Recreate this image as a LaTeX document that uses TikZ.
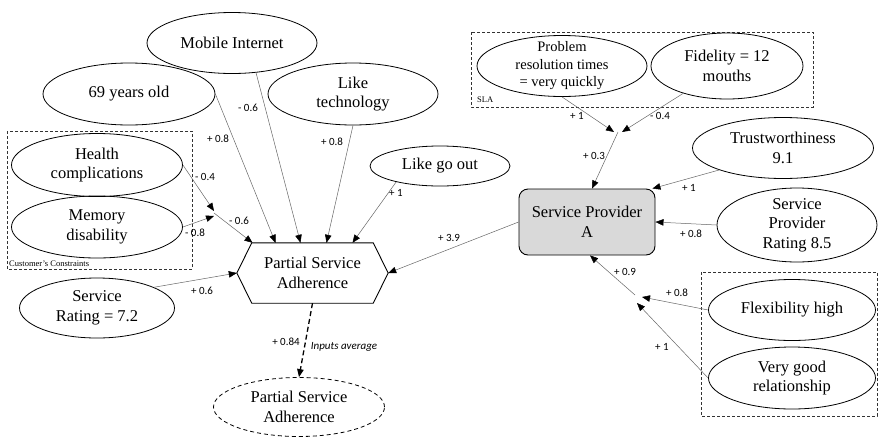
\documentclass[tikz,border=0pt]{standalone}
\usepackage{fontspec}
\setmainfont{Liberation Serif}
\newfontfamily\lblfont{Carlito}
\usetikzlibrary{shapes.geometric, arrows.meta}
\tikzstyle{oval} = [ellipse, draw=black, line width=0.8pt, inner xsep=0pt, inner ysep=-6pt, align=center, font=\fontsize{16.5}{19.5}\selectfont]
\tikzstyle{provider} = [rectangle, rounded corners=9pt, minimum width=136pt, minimum height=66pt, align=center, draw=black, line width=0.9pt, fill=black!15, font=\fontsize{16.5}{19.5}\selectfont]
\tikzstyle{adherence} = [rectangle, minimum width=151pt, minimum height=60pt, align=center, font=\fontsize{16.5}{19.5}\selectfont]
\tikzstyle{arrow} = [line width=0.5pt, draw=black!60, -{Triangle[length=8pt,width=6.5pt,black]}]
\tikzstyle{weight} = [font=\lblfont\fontsize{11}{12}\selectfont, text=black, inner sep=0pt]
\tikzstyle{group} = [draw=black!80, line width=0.7pt, dash pattern=on 3pt off 2pt]
\tikzstyle{grouplabel} = [font=\fontsize{8.5}{10}\selectfont, anchor=west, inner sep=0pt]

\begin{document}
\begin{tikzpicture}[x=1pt, y=-1pt]
\useasboundingbox (0,0) rectangle (879,437);

% groups
\draw[group] (7,131) rectangle (192,269);
\node(cons_lbl) [grouplabel] at (9,264) {Customer's Constraints};
\draw[group] (471,32) rectangle (813,107);
\node(sla_lbl) [grouplabel] at (477,100) {SLA};
\draw[group] (701,272) rectangle (877,416);

% customer side
\node(mob) [oval, minimum width=170pt, minimum height=61pt] at (232,43) {Mobile Internet};
\node(age) [oval, minimum width=172pt, minimum height=62pt] at (129,94) {69 years old};
\node(tech) [oval, minimum width=170pt, minimum height=62pt] at (353,94) {Like\\technology};
\node(goout) [oval, minimum width=140pt, minimum height=40pt] at (440,166) {Like go out};
\node(health) [oval, minimum width=171pt, minimum height=63pt] at (97,165) {Health\\complications};
\node(memory) [oval, minimum width=171pt, minimum height=62pt] at (97,227) {Memory\\disability};
\node(rating) [oval, minimum width=155pt, minimum height=60pt] at (97,308) {Service\\Rating = 7.2};
\node(psa) [adherence] at (312.5,273) {Partial Service\\Adherence};
\draw[line width=0.9pt] (psa.west) -- ([xshift=15pt]psa.north west) -- ([xshift=-15pt]psa.north east) -- (psa.east) -- ([xshift=-15pt]psa.south east) -- ([xshift=15pt]psa.south west) -- cycle;
\node(avg) [oval, dash pattern=on 4pt off 3pt, minimum width=171pt, minimum height=59pt] at (299,407) {Partial Service\\Adherence};

% provider side
\node(prob) [oval, minimum width=170pt, minimum height=61pt, font=\fontsize{14.5}{17.5}\selectfont] at (562,66) {Problem\\resolution times\\= very quickly};
\node(fid) [oval, minimum width=152pt, minimum height=66pt] at (727,66) {Fidelity = 12\\mouths};
\node(trust) [oval, minimum width=181pt, minimum height=61pt] at (783,148) {Trustworthiness\\9.1};
\node(spa) [provider] at (587,222) {Service Provider\\A};
\node(sprate) [oval, minimum width=160pt, minimum height=74pt] at (797,225) {Service\\Provider\\Rating 8.5};
\node(flex) [oval, minimum width=167pt, minimum height=61pt] at (792,310) {Flexibility high};
\node(rel) [oval, minimum width=167pt, minimum height=62pt] at (792,378) {Very good\\relationship};

% merge points
\coordinate(cc) at (214,213);
\coordinate(sm) at (618,132);
\coordinate(fm) at (640,300);

% connectors
\draw[arrow] (age.east) -- ([xshift=-37pt]psa.north);
\draw[arrow] (mob.-51) -- ([xshift=-12pt]psa.north);
\draw[arrow] (tech.south) -- ([xshift=14pt]psa.north);
\draw[arrow] (goout.-160) -- ([xshift=40pt]psa.north);
\draw[arrow] (health.east) -- ([yshift=2pt]cc);
\draw[arrow] (memory.east) -- ([yshift=-3pt]cc);
\draw[arrow] (cc) -- ([xshift=-60pt]psa.north);
\draw[arrow] (rating.20) -- (psa.west);
\draw[arrow] (spa.west) -- (psa.east);
\draw[arrow, line width=1.3pt, draw=black, dash pattern=on 5pt off 3pt] (psa.south) -- (avg.north);

\draw[arrow] (prob.south) -- ([xshift=-4pt]sm);
\draw[arrow] (fid.-148) -- ([xshift=4pt]sm);
\draw[arrow] (sm) -- ([xshift=5pt]spa.north);
\draw[arrow] (trust.-161) -- ([xshift=-3pt]spa.north east);
\draw[arrow] (sprate.west) -- (spa.east);
\draw[arrow] (flex.west) -- ([shift={(2pt,3pt)}]fm);
\draw[arrow] (rel.west) -- ([shift={(-3pt,-3pt)}]fm);
\draw[arrow] ([shift={(-5pt,5pt)}]fm) -- ([xshift=3pt]spa.south);

% weights
\node(w_age) [weight] at (218,139) {+ 0.8};
\node(w_mob) [weight] at (248,108) {- 0.6};
\node(w_tech) [weight] at (332,142) {+ 0.8};
\node(w_goout) [weight] at (396,193) {+ 1};
\node(w_health) [weight] at (205,177) {- 0.4};
\node(w_cons) [weight] at (239,221) {- 0.6};
\node(w_memory) [weight] at (195,233) {- 0.8};
\node(w_rating) [weight] at (202,291) {+ 0.6};
\node(w_avg) [weight] at (286,342) {+ 0.84};
\node(w_avg_txt) [weight, font=\lblfont\itshape\fontsize{11}{12}\selectfont] at (344,347) {Inputs average};
\node(w_spa) [weight] at (449,238) {+ 3.9};
\node(w_prob) [weight] at (577,116) {+ 1};
\node(w_fid) [weight] at (660,116) {- 0.4};
\node(w_sla) [weight] at (594,156) {+ 0.3};
\node(w_trust) [weight] at (689,188) {+ 1};
\node(w_sprate) [weight] at (691,234) {+ 0.8};
\node(w_rel_grp) [weight] at (625,272) {+ 0.9};
\node(w_flex) [weight] at (677,293) {+ 0.8};
\node(w_rel) [weight] at (662,347) {+ 1};
\end{tikzpicture}
\end{document}
